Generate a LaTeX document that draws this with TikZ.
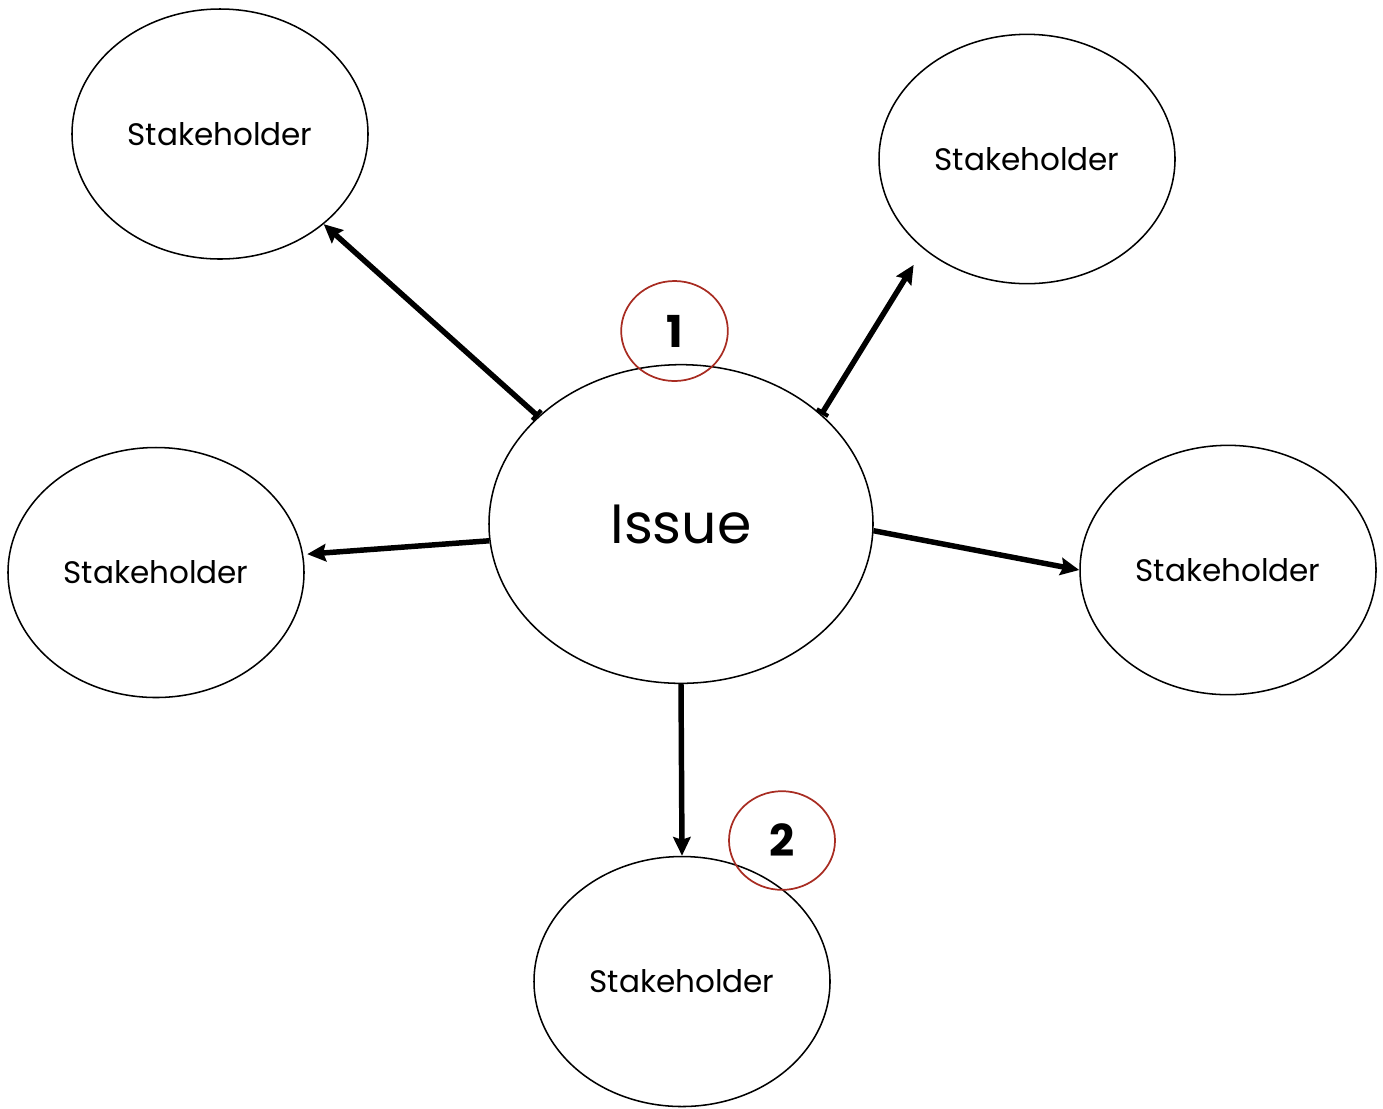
\documentclass[tikz,border=0pt]{standalone}
\usepackage{fontspec}
\setmainfont{Poppins}
\usetikzlibrary{shapes.geometric,arrows.meta}
\definecolor{markred}{RGB}{168,44,34}
\begin{document}
\begin{tikzpicture}[x=0.75pt,y=-0.75pt,
  holder/.style={draw=black,line width=1.15pt,ellipse,inner sep=0pt,font=\fontsize{23.3}{27}\selectfont},
  redmark/.style={draw=markred,line width=1.3pt,ellipse,inner sep=0pt,font=\fontsize{33}{36}\selectfont\bfseries},
  link/.style={line width=4.1pt,-{Stealth[length=14pt,width=13pt,inset=2pt]}},
  linkbar/.style={line width=4.1pt,{Bar[width=10pt,line width=3pt]}-{Stealth[length=14pt,width=13pt,inset=2pt]}}]
\useasboundingbox (0,0) rectangle (1383,1108);
\node[holder,minimum width=222pt,minimum height=187.5pt] (tl) at (220,134) {Stakeholder};
\node[holder,minimum width=222pt,minimum height=187pt] (tr) at (1027,159) {Stakeholder};
\node[holder,minimum width=222pt,minimum height=187.5pt] (lf) at (156,572.5) {Stakeholder};
\node[holder,minimum width=222pt,minimum height=187pt] (rt) at (1228,570) {Stakeholder};
\node[holder,minimum width=222pt,minimum height=187.5pt] (bt) at (682,981.5) {Stakeholder};
\node[holder,minimum width=288pt,minimum height=239pt,font=\fontsize{41.5}{46}\selectfont] (issue) at (681,524) {Issue};
\node[redmark,minimum width=80pt,minimum height=75pt] (m1) at (674.5,331) {1};
\node[redmark,minimum width=79.5pt,minimum height=74pt] (m2) at (782,840.5) {2};
\draw[linkbar] (issue.143) -- (tl.319);
\draw[linkbar,shorten >=14pt] (issue.38.8) -- (tr.221);
\draw[link,shorten >=3pt] (issue.185) -- (lf.7);
\draw[link] (issue.358.4) -- (rt.180.6);
\draw[link] (issue.270) -- (bt.90);
\end{tikzpicture}
\end{document}
